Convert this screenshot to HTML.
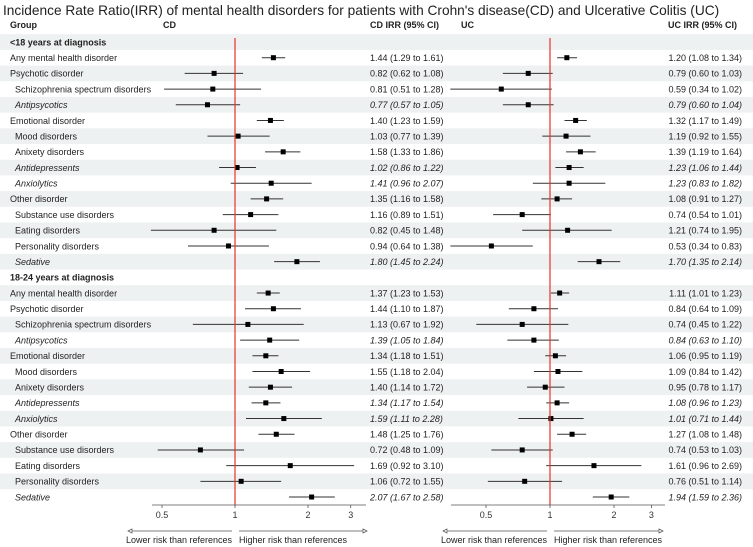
<!DOCTYPE html>
<html><head><meta charset="utf-8">
<style>
html,body{margin:0;padding:0;background:#fff;}
svg{display:block;font-family:"Liberation Sans",Arial,sans-serif;}
</style></head>
<body>
<svg id="chart" width="753" height="547" viewBox="0 0 753 547" xmlns="http://www.w3.org/2000/svg">
<text x="3" y="15" font-size="13.7" fill="#222">Incidence Rate Ratio(IRR) of mental health disorders for patients with Crohn's disease(CD) and Ulcerative Colitis (UC)</text>
<g font-size="9" font-weight="bold" fill="#222">
<text x="10" y="28">Group</text>
<text x="163" y="28">CD</text>
<text x="370" y="28">CD IRR (95% CI)</text>
<text x="461" y="28">UC</text>
<text x="668" y="28">UC IRR (95% CI)</text>
</g>
<g id="rows"></g>
<g id="marks"></g>
<g id="axes"></g>
</svg>
<script>
const labels = ["<18 years at diagnosis","Any mental health disorder","Psychotic disorder","Schizophrenia spectrum disorders","Antipsycotics","Emotional disorder","Mood disorders","Anixety disorders","Antidepressents","Anxiolytics","Other disorder","Substance use disorders","Eating disorders","Personality disorders","Sedative",
"18-24 years at diagnosis","Any mental health disorder","Psychotic disorder","Schizophrenia spectrum disorders","Antipsycotics","Emotional disorder","Mood disorders","Anixety disorders","Antidepressents","Anxiolytics","Other disorder","Substance use disorders","Eating disorders","Personality disorders","Sedative"];
const rowTypes = ["h","m","m","s","i","m","s","s","i","i","m","s","s","s","i","h","m","m","s","i","m","s","s","i","i","m","s","s","s","i"];
const cdEst = [null,1.44,0.82,0.81,0.77,1.40,1.03,1.58,1.02,1.41,1.35,1.16,0.82,0.94,1.80,null,1.37,1.44,1.13,1.39,1.34,1.55,1.40,1.34,1.59,1.48,0.72,1.69,1.06,2.07];
const cdLo  = [null,1.29,0.62,0.51,0.57,1.23,0.77,1.33,0.86,0.96,1.16,0.89,0.45,0.64,1.45,null,1.23,1.10,0.67,1.05,1.18,1.18,1.14,1.17,1.11,1.25,0.48,0.92,0.72,1.67];
const cdHi  = [null,1.61,1.08,1.28,1.05,1.59,1.39,1.86,1.22,2.07,1.58,1.51,1.48,1.38,2.24,null,1.53,1.87,1.92,1.84,1.51,2.04,1.72,1.54,2.28,1.76,1.09,3.10,1.55,2.58];
const ucEst = [null,1.20,0.79,0.59,0.79,1.32,1.19,1.39,1.23,1.23,1.08,0.74,1.21,0.53,1.70,null,1.11,0.84,0.74,0.84,1.06,1.09,0.95,1.08,1.01,1.27,0.74,1.61,0.76,1.94];
const ucLo  = [null,1.08,0.60,0.34,0.60,1.17,0.92,1.19,1.06,0.83,0.91,0.54,0.74,0.34,1.35,null,1.01,0.64,0.45,0.63,0.95,0.84,0.78,0.96,0.71,1.08,0.53,0.96,0.51,1.59];
const ucHi  = [null,1.34,1.03,1.02,1.04,1.49,1.55,1.64,1.44,1.82,1.27,1.01,1.95,0.83,2.14,null,1.23,1.09,1.22,1.10,1.19,1.42,1.17,1.23,1.44,1.48,1.03,2.69,1.14,2.36];
const tickVals = [0.5,1,2,3];
const tickLabels = ["0.5","1","2","3"];

const NS="http://www.w3.org/2000/svg";
function mk(tag, attrs, parent, txt){const e=document.createElementNS(NS,tag);for(const k in attrs)e.setAttribute(k,attrs[k]);if(txt!==undefined)e.textContent=txt;parent.appendChild(e);return e;}
const y0=42, pitch=15.69, FS=9;
function rowY(i){return y0+i*pitch;}
function xCD(v){return 235+73*Math.log2(v);}
function xUC(v){return 550+64*Math.log2(v);}
function fmt(v){return v.toFixed(2);}
const rowsG=document.getElementById('rows'), marksG=document.getElementById('marks'), axesG=document.getElementById('axes');

labels.forEach((lab,i)=>{
  const y=rowY(i), t=rowTypes[i];
  if(i%2===0){
    const b=mk('rect',{x:0,y:y-7.8,width:753,height:pitch,fill:'#eef1f1'},rowsG);
    
    
  }
  const a={x:(t==='s'||t==='i')?15:10,y:y+3.3,'font-size':FS,fill:'#222'};
  if(t==='h')a['font-weight']='bold';
  if(t==='i')a['font-style']='italic';
  const tx=mk('text',a,rowsG,lab);
  
  
  if(t==='h')return;
  const it=t==='i'?{'font-style':'italic'}:{};
  const c=mk('text',Object.assign({x:370,y:y+3.3,'font-size':FS,fill:'#222'},it),rowsG,fmt(cdEst[i])+' ('+fmt(cdLo[i])+' to '+fmt(cdHi[i])+')');
  
  
  const u=mk('text',Object.assign({x:742,y:y+3.3,'font-size':FS,fill:'#222','text-anchor':'end'},it),rowsG,fmt(ucEst[i])+' ('+fmt(ucLo[i])+' to '+fmt(ucHi[i])+')');
  
  
  [[xCD,cdEst,cdLo,cdHi,'cd'],[xUC,ucEst,ucLo,ucHi,'uc']].forEach(([sx,e,lo,hi,nm])=>{
    const l=mk('line',{x1:sx(lo[i]),x2:sx(hi[i]),y1:y,y2:y,stroke:'#333','stroke-width':1},marksG);
    
    
    const p=mk('rect',{x:sx(e[i])-2.5,y:y-2.5,width:5,height:5,fill:'#000'},marksG);
    
    
  });
});

[[xCD,152,366,128,367,'cd'],[xUC,451,665,443,663,'uc']].forEach(([sx,a0,a1,l0,h1,nm])=>{
  const ref=mk('line',{x1:sx(1),x2:sx(1),y1:38,y2:505,stroke:'#e8332a','stroke-width':1.2},axesG);
  
  
  const ax=mk('line',{x1:a0,x2:a1,y1:505,y2:505,stroke:'#555','stroke-width':0.8},axesG);
  
  
  tickVals.forEach((v,k)=>{
    const tk=mk('line',{x1:sx(v),x2:sx(v),y1:505,y2:508,stroke:'#555','stroke-width':0.8},axesG);
    
    
    const tl=mk('text',{x:sx(v),y:518,'font-size':FS,fill:'#333','text-anchor':'middle'},axesG,tickLabels[k]);
    
    
  });
  const x1=sx(1);
  const la=mk('line',{x1:l0,x2:x1-3,y1:531,y2:531,stroke:'#555','stroke-width':0.8},axesG);
  
  
  const lh=mk('path',{d:`M${l0} 531 l4 -2 v4 z`,fill:'#fff',stroke:'#555','stroke-width':0.7},axesG);
  
  
  const ha=mk('line',{x1:x1+4,x2:h1,y1:531,y2:531,stroke:'#555','stroke-width':0.8},axesG);
  
  
  const hh=mk('path',{d:`M${h1} 531 l-4 -2 v4 z`,fill:'#fff',stroke:'#555','stroke-width':0.7},axesG);
  
  
  const lt=mk('text',{x:x1-3,y:543,'font-size':FS,fill:'#222','text-anchor':'end'},axesG,'Lower risk than references');
  
  
  const ht=mk('text',{x:x1+4,y:543,'font-size':FS,fill:'#222'},axesG,'Higher risk than references');
  
  
});
</script>
</body></html>
